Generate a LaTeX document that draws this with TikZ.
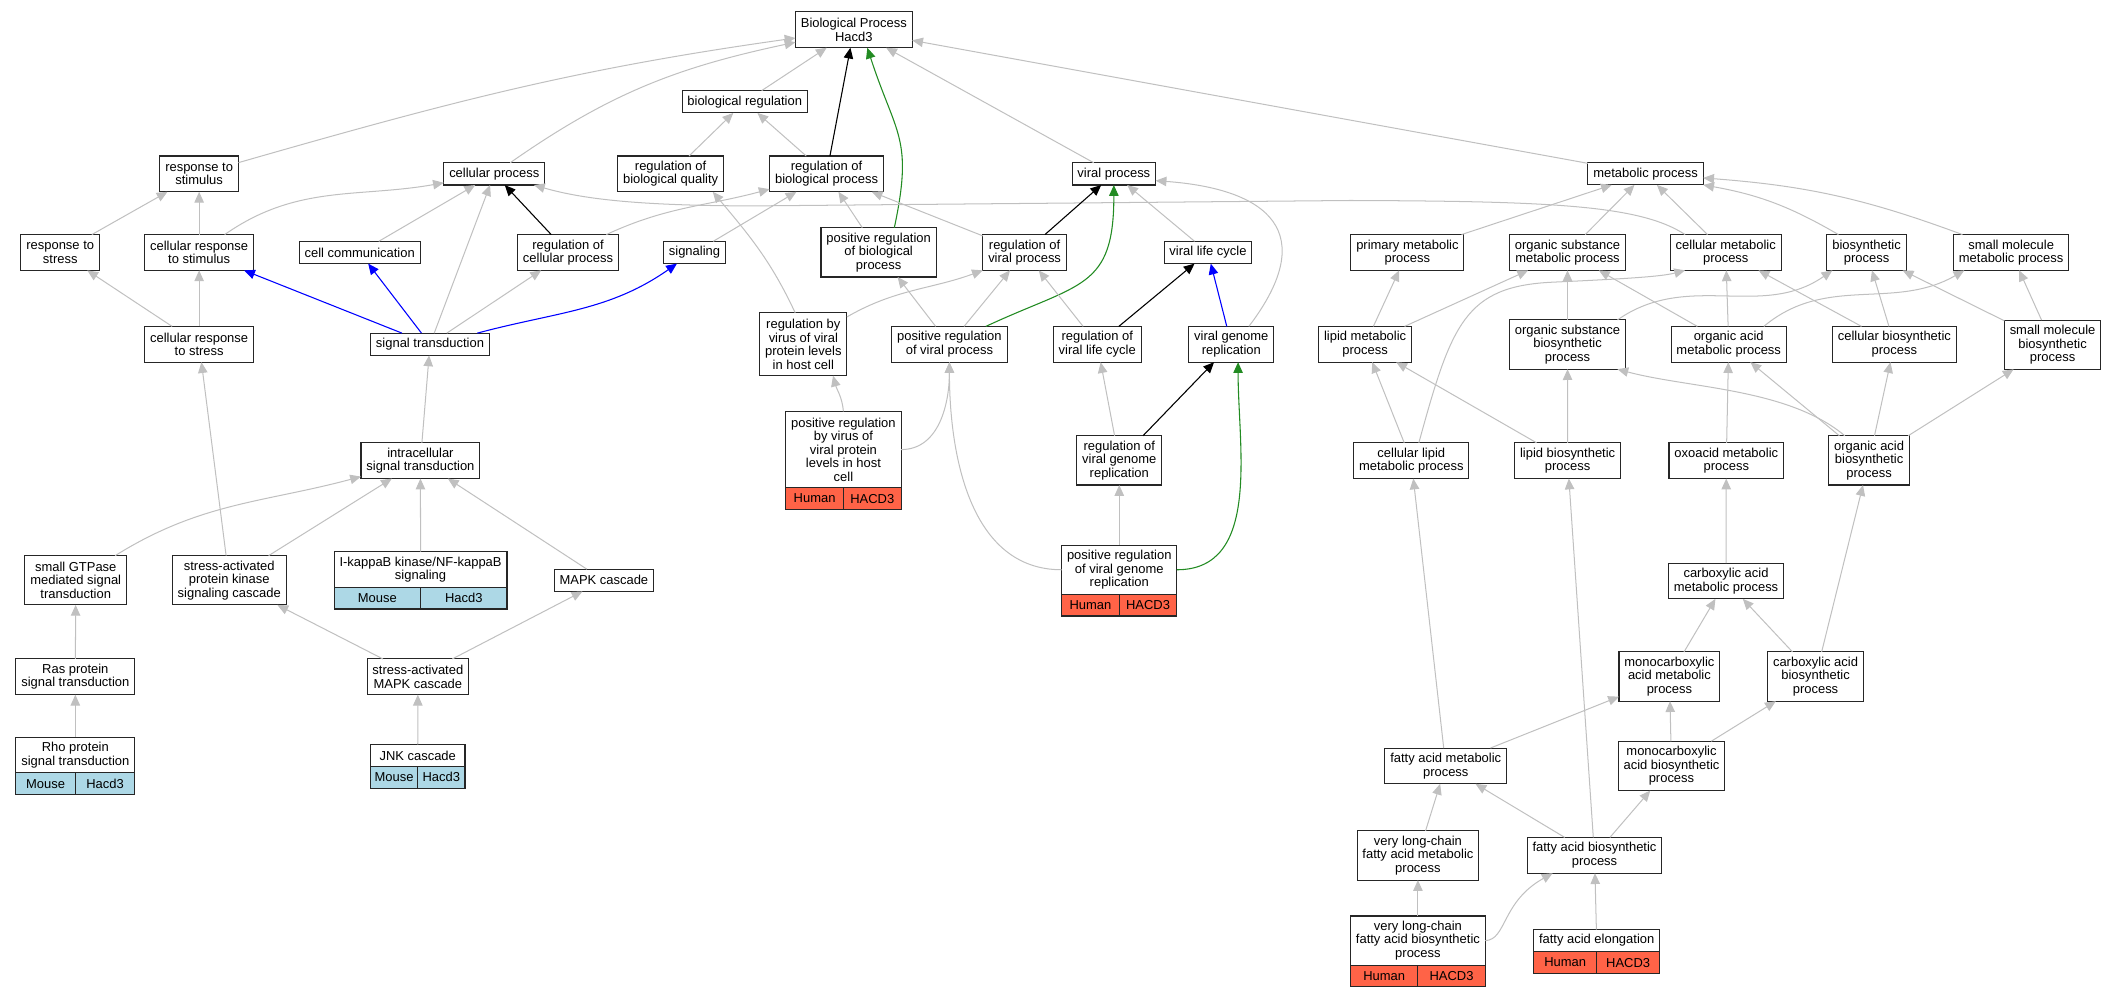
\documentclass[tikz,border=0pt]{standalone}
\usepackage{fontspec}
\setmainfont{Liberation Sans}
\usetikzlibrary{arrows.meta, calc}
\definecolor{isagray}{HTML}{C0C0C0}
\definecolor{posgreen}{HTML}{228B22}
\definecolor{partblue}{HTML}{0000FF}
\definecolor{mousecell}{HTML}{ADD8E6}
\definecolor{humancell}{HTML}{FF6347}
\newcommand{\gofont}{\fontsize{9.6}{10}\selectfont}
\tikzset{
->, % every connector points at the broader term
>={Triangle[length=8pt,width=7pt]}, % filled heads as in the dot output
term/.style={draw=black!85, line width=0.8pt, fill=white, align=center, inner xsep=4pt, inner ysep=1pt, outer sep=0pt, minimum height=16.5pt, font=\gofont}, % one GO term
two/.style={minimum height=26.5pt},
three/.style={minimum height=36.5pt},
four/.style={minimum height=46.5pt},
five/.style={minimum height=56.5pt},
tagcell/.style={draw=black!85, line width=0.8pt, inner sep=0pt, outer sep=0pt, minimum height=16pt, font=\gofont}, % species / gene cell
isa/.style={draw=isagray, line width=0.75pt},
regedge/.style={draw=black, line width=0.8pt},
posedge/.style={draw=posgreen, line width=0.8pt},
partedge/.style={draw=partblue, line width=0.8pt},
}
% two cells under an annotated term
\newcommand{\tagrow}[4]{%
  \path let \p1=(#1.south west), \p2=(#1.south east) in
    node[tagcell, fill=#2, minimum width={(\x2-\x1)/2}, anchor=north west] (#1l) at (\p1) {#3}
    node[tagcell, fill=#2, minimum width={(\x2-\x1)/2}, anchor=north east] (#1r) at (\p2) {#4};%
}

\begin{document}
\begin{tikzpicture}[x=1pt, y=-1pt]
    \useasboundingbox (0,0) rectangle (1568,738.4);

    % top rows
    \node[term, two] (bp) at (632.4,22.1) {Biological Process\\Hacd3};
    \node[term] (bioreg) at (551.6,75.4) {biological regulation};
    \node[term, two] (respstim) at (147.5,128.8) {response to\\stimulus};
    \node[term] (cellproc) at (366.1,128.8) {cellular process};
    \node[term, two] (regqual) at (496.7,128.8) {regulation of\\biological quality};
    \node[term, two] (regbio) at (612.2,128.8) {regulation of\\biological process};
    \node[term] (viralproc) at (825,128.8) {viral process};
    \node[term] (metab) at (1218.8,128.7) {metabolic process};

    \node[term, two] (respstress) at (44.6,187) {response to\\stress};
    \node[term, two] (cellrespstim) at (147.5,187) {cellular response\\to stimulus};
    \node[term] (cellcomm) at (266.4,187) {cell communication};
    \node[term, two] (regcell) at (420.7,187) {regulation of\\cellular process};
    \node[term] (signaling) at (514.4,187) {signaling};
    \node[term, three] (posregbio) at (650.8,186.9) {positive regulation\\of biological\\process};
    \node[term, two] (regviral) at (758.9,187) {regulation of\\viral process};
    \node[term] (viralcycle) at (894.7,187) {viral life cycle};
    \node[term, two] (primmetab) at (1042.4,187) {primary metabolic\\process};
    \node[term, two] (orgsubmetab) at (1161,187) {organic substance\\metabolic process};
    \node[term, two] (cellmetab) at (1278.2,187) {cellular metabolic\\process};
    \node[term, two] (biosyn) at (1382.5,187) {biosynthetic\\process};
    \node[term, two] (smallmetab) at (1489.6,187) {small molecule\\metabolic process};

    \node[term, two] (cellrespstress) at (147.5,255) {cellular response\\to stress};
    \node[term] (sigtrans) at (318.5,255) {signal transduction};
    \node[term, four] (regvirusprot) at (595,255) {regulation by\\virus of viral\\protein levels\\in host cell};
    \node[term, two] (posregviral) at (703.2,255) {positive regulation\\of viral process};
    \node[term, two] (regcycle) at (812.7,255) {regulation of\\viral life cycle};
    \node[term, two] (genomerep) at (912,255) {viral genome\\replication};
    \node[term, two] (lipidmetab) at (1011.1,255) {lipid metabolic\\process};
    \node[term, three] (orgsubbiosyn) at (1161,255.2) {organic substance\\biosynthetic\\process};
    \node[term, two] (orgacidmetab) at (1280.4,255) {organic acid\\metabolic process};
    \node[term, two] (cellbiosyn) at (1403.1,255) {cellular biosynthetic\\process};
    \node[term, three] (smallbiosyn) at (1520.3,255.3) {small molecule\\biosynthetic\\process};

    % lower rows
    \node[term, two] (intrasig) at (311.4,341.2) {intracellular\\signal transduction};
    \node[term, five] (posregvirusprot) at (624.7,333) {positive regulation\\by virus of\\viral protein\\levels in host\\cell};
    \node[term, three] (regrep) at (829,341) {regulation of\\viral genome\\replication};
    \node[term, two] (celllipid) at (1045.3,341.2) {cellular lipid\\metabolic process};
    \node[term, two] (lipidbiosyn) at (1161.1,341.2) {lipid biosynthetic\\process};
    \node[term, two] (oxoacid) at (1278.6,341.2) {oxoacid metabolic\\process};
    \node[term, three] (orgacidbiosyn) at (1384.4,341) {organic acid\\biosynthetic\\process};

    \node[term, three] (smallgtp) at (56.1,429.8) {small GTPase\\mediated signal\\transduction};
    \node[term, three] (sapk) at (169.8,429.8) {stress-activated\\protein kinase\\signaling cascade};
    \node[term, two] (ikappab) at (311.5,421.8) {I-kappaB kinase/NF-kappaB\\signaling};
    \node[term] (mapk) at (447.3,429.8) {MAPK cascade};
    \node[term, three] (posregrep) at (829,422) {positive regulation\\of viral genome\\replication};
    \node[term, two] (carbmetab) at (1278.4,430.3) {carboxylic acid\\metabolic process};

    \node[term, two] (ras) at (55.8,501.3) {Ras protein\\signal transduction};
    \node[term, two] (samapk) at (309.5,501.3) {stress-activated\\MAPK cascade};
    \node[term, three] (monometab) at (1236.5,501.1) {monocarboxylic\\acid metabolic\\process};
    \node[term, three] (carbbiosyn) at (1344.7,501.1) {carboxylic acid\\biosynthetic\\process};

    \node[term, two] (rho) at (55.8,559.2) {Rho protein\\signal transduction};
    \node[term, minimum width=70pt] (jnk) at (309.4,559.5) {JNK cascade};
    \node[term, two] (fametab) at (1070.8,567.3) {fatty acid metabolic\\process};
    \node[term, three] (monobiosyn) at (1238,567.3) {monocarboxylic\\acid biosynthetic\\process};

    \node[term, three] (vlcfametab) at (1050.2,633.6) {very long-chain\\fatty acid metabolic\\process};
    \node[term, two] (fabiosyn) at (1181,633.5) {fatty acid biosynthetic\\process};
    \node[term, three] (vlcfabiosyn) at (1050.2,696.7) {very long-chain\\fatty acid biosynthetic\\process};
    \node[term] (faelong) at (1182.6,696.7) {fatty acid elongation};

    \tagrow{posregvirusprot}{humancell}{Human}{HACD3}
    \tagrow{posregrep}{humancell}{Human}{HACD3}
    \tagrow{vlcfabiosyn}{humancell}{Human}{HACD3}
    \tagrow{faelong}{humancell}{Human}{HACD3}
    \tagrow{ikappab}{mousecell}{Mouse}{Hacd3}
    \tagrow{rho}{mousecell}{Mouse}{Hacd3}
    \tagrow{jnk}{mousecell}{Mouse}{Hacd3}

    % connectors to the root and upper terms
    \draw[isa] (respstim) to[out=16,in=188] (bp);
    \draw[isa] (cellproc) to[out=35,in=192] (bp);
    \draw[isa] (bioreg) -- (bp);
    \draw[regedge] (regbio) -- (bp);
    \draw[posedge] ([xshift=11.6pt]posregbio.north) to[out=78,in=-72,looseness=1.3] ([xshift=10pt]bp.south);
    \draw[isa] (viralproc) -- (bp);
    \draw[isa] (metab) -- (bp);
    \draw[isa] (regqual) -- (bioreg);
    \draw[isa] (regbio) -- (bioreg);
    \draw[isa] (respstress) -- (respstim);
    \draw[isa] (cellrespstim) -- (respstim);
    \draw[isa] (cellrespstim) to[out=35,in=190] (cellproc);
    \draw[isa] (cellcomm) -- (cellproc);
    \draw[regedge] (regcell) -- (cellproc);
    \draw[isa] (sigtrans) -- (cellproc);
    \draw[isa] ([xshift=11pt]cellmetab.north west) .. controls (1215,152) and (1150,149) .. (1000,148.5) -- (560,152.5) .. controls (470,152.5) and (430,147) .. ([xshift=-8pt]cellproc.south east);
    \draw[isa] (regcell) to[out=25,in=195] (regbio);
    \draw[isa] (signaling) -- (regbio);
    \draw[isa] (posregbio) -- (regbio);
    \draw[isa] (regviral) -- (regbio);

    % viral part
    \draw[isa] ([xshift=-6pt]regvirusprot.north) to[out=115,in=-50] ([xshift=-8pt]regqual.south east);
    \draw[isa] ([yshift=-3pt]regvirusprot.north east) to[out=30,in=200] (regviral.south west);
    \draw[isa] (posregviral) -- (posregbio);
    \draw[isa] (posregviral) -- (regviral);
    \draw[posedge] ([xshift=27pt]posregviral.north) to[out=25,in=-90,looseness=1.4] (viralproc.south);
    \draw[regedge] (regviral) -- (viralproc);
    \draw[isa] (regcycle) -- (regviral);
    \draw[regedge] (regcycle) -- (viralcycle);
    \draw[partedge] (genomerep) -- (viralcycle);
    \draw[isa] ([xshift=13pt]genomerep.north) .. controls (978,172) and (940,140) .. ([yshift=-5pt]viralproc.east);
    \draw[isa] (viralcycle) -- (viralproc);
    \draw[isa] (regrep) -- (regcycle);
    \draw[regedge] (regrep) -- (genomerep);
    \draw[isa] (posregrep) -- (regrep);
    \draw[posedge] (posregrep.east) to[out=0,in=-90] ([xshift=5pt]genomerep.south);
    \draw[isa] (posregrep.west) to[out=180,in=-90] (posregviral.south);
    \draw[isa] (posregvirusprot.north) to[out=95,in=-75] ([xshift=22pt]regvirusprot.south);
    \draw[isa] (posregvirusprot.east) to[out=0,in=-90] (posregviral.south);

    % signalling part
    \draw[isa] (cellrespstress) -- (respstress);
    \draw[isa] (cellrespstress) -- (cellrespstim);
    \draw[partedge] (sigtrans) -- (cellrespstim);
    \draw[partedge] (sigtrans) -- (cellcomm);
    \draw[isa] (sigtrans) -- (regcell);
    \draw[partedge] ([xshift=-9pt]sigtrans.north east) to[out=15,in=-145] ([xshift=-13pt]signaling.south);
    \draw[isa] (intrasig) -- (sigtrans);
    \draw[isa] (smallgtp) to[out=32,in=195] (intrasig);
    \draw[isa] (sapk) -- (intrasig);
    \draw[isa] (sapk) -- (cellrespstress);
    \draw[isa] (ikappab) -- (intrasig);
    \draw[isa] (mapk) -- (intrasig);
    \draw[isa] (ras) -- (smallgtp);
    \draw[isa] (rho) -- (ras);
    \draw[isa] (samapk) -- (sapk);
    \draw[isa] (samapk) -- (mapk);
    \draw[isa] (jnk) -- (samapk);

    % metabolic part
    \draw[isa] (primmetab) -- (metab);
    \draw[isa] (orgsubmetab) -- (metab);
    \draw[isa] (cellmetab) -- (metab);
    \draw[isa] (biosyn) to[bend right=10] (metab.south east);
    \draw[isa] (smallmetab) to[bend right=8] (metab);
    \draw[isa] (lipidmetab) -- (primmetab);
    \draw[isa] (lipidmetab) -- (orgsubmetab);
    \draw[isa] (celllipid) -- (lipidmetab);
    \draw[isa] ([xshift=5.6pt]celllipid.north) .. controls (1075,240) and (1085,212) .. (1150,209) .. controls (1200,206.7) and (1230,205) .. ([xshift=11pt]cellmetab.south west);
    \draw[isa] (orgsubbiosyn) -- (orgsubmetab);
    \draw[isa] ([xshift=37pt]orgsubbiosyn.north) to[out=35,in=215] ([xshift=4pt]biosyn.south west);
    \draw[isa] (orgacidmetab) -- (orgsubmetab);
    \draw[isa] (orgacidmetab) -- (cellmetab);
    \draw[isa] ([xshift=26pt]orgacidmetab.north) to[out=40,in=210] ([xshift=8pt]smallmetab.south west);
    \draw[isa] (cellbiosyn) -- (cellmetab);
    \draw[isa] (cellbiosyn) -- (biosyn);
    \draw[isa] (smallbiosyn) -- (smallmetab);
    \draw[isa] (smallbiosyn) -- (biosyn);
    \draw[isa] (lipidbiosyn) -- (lipidmetab);
    \draw[isa] (lipidbiosyn) -- (orgsubbiosyn);
    \draw[isa] (oxoacid) -- (orgacidmetab);
    \draw[isa] ([xshift=-18pt]orgacidbiosyn.north) to[out=140,in=-15,looseness=0.8] ([xshift=-6pt]orgsubbiosyn.south east);
    \draw[isa] (orgacidbiosyn) -- (orgacidmetab);
    \draw[isa] (orgacidbiosyn) -- (cellbiosyn);
    \draw[isa] (orgacidbiosyn) -- (smallbiosyn);
    \draw[isa] (carbmetab) -- (oxoacid);
    \draw[isa] (monometab) -- (carbmetab);
    \draw[isa] (carbbiosyn) -- (carbmetab);
    \draw[isa] (carbbiosyn) -- (orgacidbiosyn);
    \draw[isa] (fametab) -- (monometab);
    \draw[isa] (fametab) -- (celllipid);
    \draw[isa] (monobiosyn) -- (monometab);
    \draw[isa] (monobiosyn) -- (carbbiosyn);
    \draw[isa] (fabiosyn) -- (fametab);
    \draw[isa] (fabiosyn) -- (monobiosyn);
    \draw[isa] (fabiosyn) -- (lipidbiosyn);
    \draw[isa] (vlcfametab) -- (fametab);
    \draw[isa] (vlcfabiosyn) -- (vlcfametab);
    \draw[isa] (vlcfabiosyn.east) .. controls (1116,696) and (1112,668) .. ([xshift=-31pt]fabiosyn.south);
    \draw[isa] (faelong) -- (fabiosyn);
\end{tikzpicture}
\end{document}
